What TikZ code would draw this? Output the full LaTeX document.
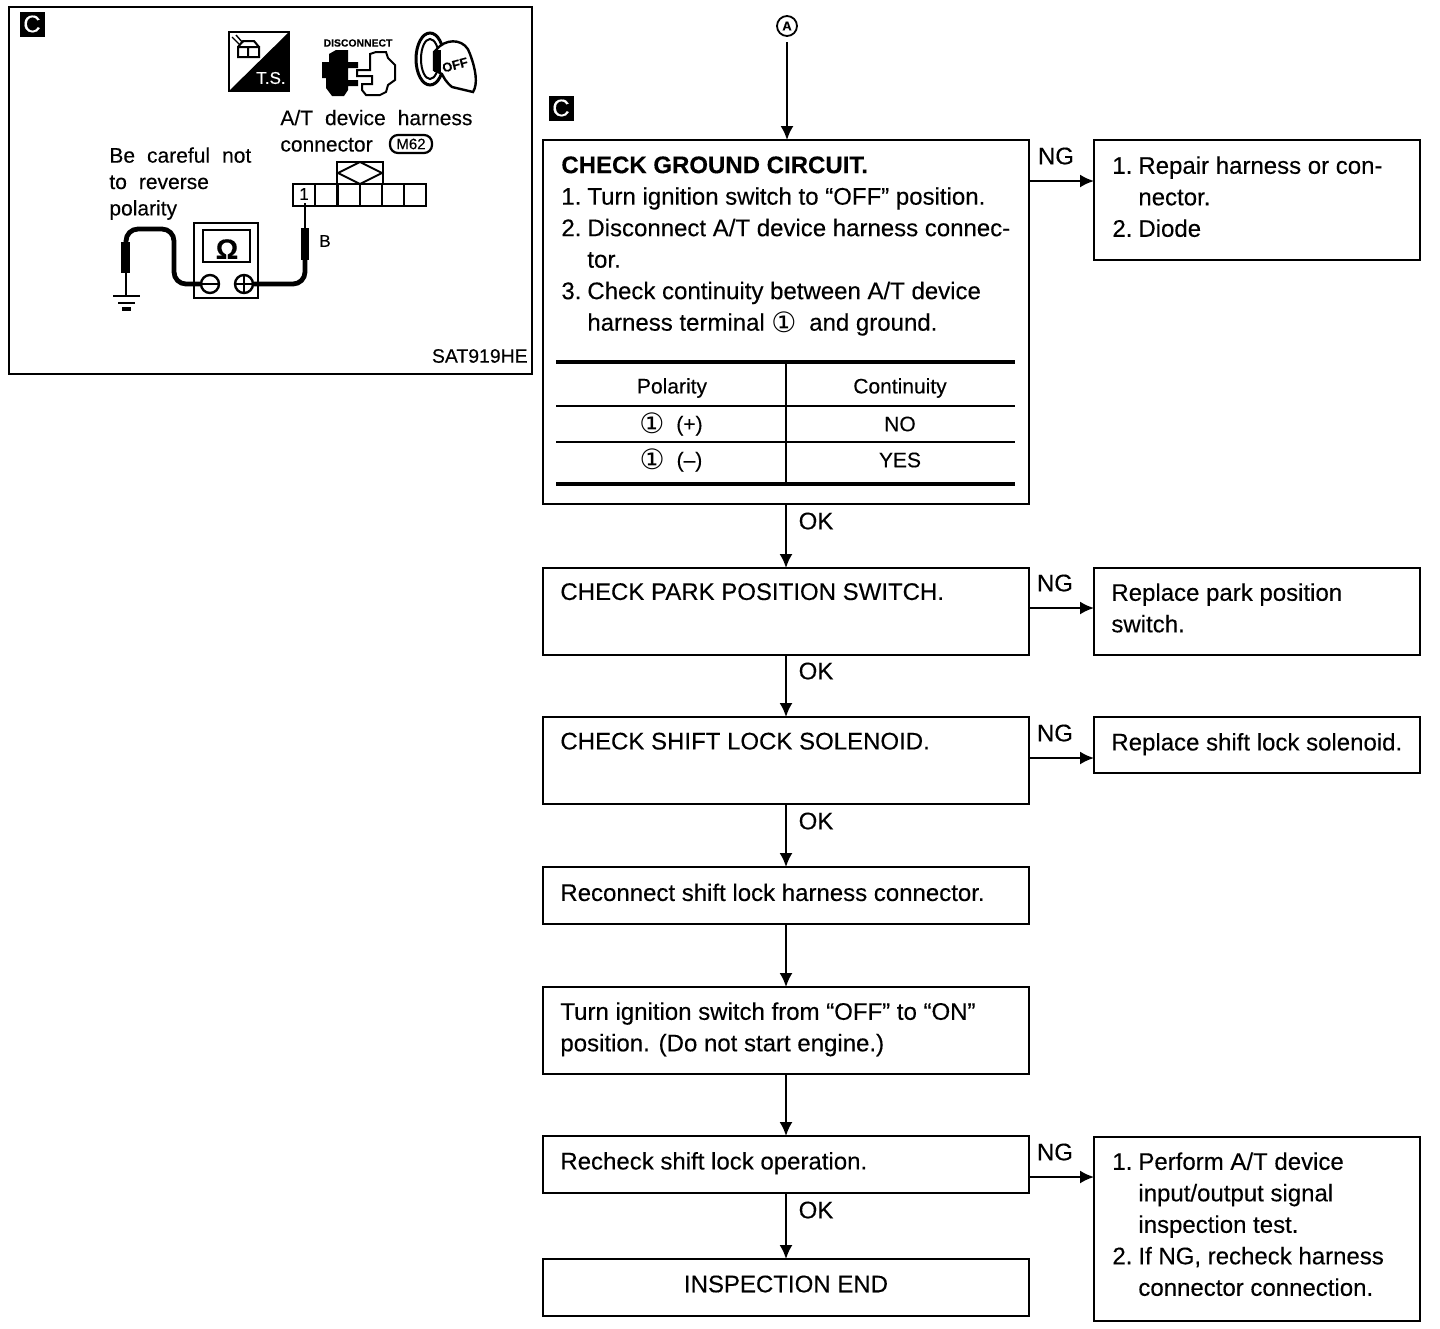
\documentclass[tikz,border=0pt]{standalone}
\usepackage{fontspec}
\setmainfont{Liberation Sans}[FakeBold=0.25]
\newfontfamily\symfont{DejaVu Sans}
\usetikzlibrary{arrows.meta,positioning,shapes}

\newcommand{\itm}[1]{\makebox[13pt][l]{#1}}
\newcommand{\one}{\raisebox{-1pt}{\symfont\fontsize{14}{14}\selectfont ①}\hspace{3pt}}
\newcommand{\wsp}{\hspace{6pt}}

\tikzset{
  box/.style={draw, line width=1pt, inner sep=0pt, outer sep=0pt, anchor=north west},
  txt/.style={inner sep=0pt, anchor=north west, align=left, execute at begin node=\strut,
    font=\fontsize{12}{15.75}\selectfont},
  small/.style={inner sep=0pt, font=\fontsize{10.5}{12.5}\selectfont},
  mark c/.style={fill=black, text=white, inner sep=0pt, minimum size=12.5pt, font=\fontsize{12}{12}\selectfont},
  flow/.style={line width=1pt, -{Latex[length=7pt,width=6.5pt]}},
  wire/.style={line width=2.4pt, rounded corners=6pt},
  thin/.style={line width=1pt},
}

\begin{document}
\begin{tikzpicture}[x=0.5pt, y=-0.5pt]
\useasboundingbox (0,0) rectangle (1440,1328);

% left panel
\draw[thin] (9,7) rectangle (532,374);
\node[mark c] (markA) at (32,24) {C};
\node[inner sep=0pt, anchor=east, font=\fontsize{9.7}{12}\selectfont] (figcode) at (528,356) {SAT919HE};

% icons
\draw[thin] (229,32) rectangle (289,91);
\fill (289,32) -- (289,91) -- (229,91) -- cycle;
\node[inner sep=0pt, text=white, font=\fontsize{8.5}{9}\selectfont] (tsmark) at (271,78) {T.S.};
\draw[line width=1pt] (238,47) rectangle (259,57) (248,47) -- (248,57) (238,47) -- (243,41) -- (254,41) -- (259,47);
\draw[line width=0.7pt] (232,37) -- (240,45) (236,35) -- (243,43);

\node[inner sep=0pt, font=\bfseries\fontsize{5.2}{5}\selectfont] (discon) at (358,43) {DISCONNECT};
\fill (322,62) -- (329,62) -- (329,54) -- (336,50) -- (348,50) -- (348,62) -- (358,62) -- (358,68) -- (348,68)
  -- (348,80) -- (358,80) -- (358,86) -- (348,86) -- (348,90) -- (344,96) -- (332,96) -- (326,88) -- (326,78) -- (322,78) -- cycle;
\draw[line width=1pt] (370,66) -- (370,54) -- (376,52) -- (386,52) -- (388,58) -- (395,65) -- (395,80) -- (388,85)
  -- (386,92) -- (380,95) -- (366,95) -- (362,90) -- (362,84) -- (372,84) -- (372,76) -- (357,76) -- (357,70) -- (370,70) -- cycle;

\draw[line width=1.5pt] (430,59) ellipse (7pt and 13pt);
\draw[line width=1pt] (430,59) ellipse (4.5pt and 10pt);
\draw[fill=white, line width=1.2pt] (440,46) .. controls (450,38) and (466,40) .. (470,54)
  .. controls (476,70) and (478,84) .. (473,92) -- (452,87) .. controls (446,82) and (444,78) .. (442,74)
  -- (434,70) -- (434,52) -- cycle;
\fill (434,50) rectangle (441,72);
\node[inner sep=0pt, rotate=15, font=\bfseries\fontsize{6.5}{7}\selectfont] (offmark) at (455,65) {OFF};

% labels of the panel
\node[txt, font=\fontsize{10.5}{13.2}\selectfont] (hintlabel) at (109,147) {Be\wsp careful\wsp not\\to\wsp reverse\\polarity};
\node[txt, font=\fontsize{10.5}{13.2}\selectfont] (connlabel) at (280,109.5) {A/T\wsp device\wsp harness\\connector};
\node[draw, line width=1.1pt, rounded corners=4pt, inner sep=1pt, minimum width=21pt, minimum height=9pt,
  font=\fontsize{7.5}{7.5}\selectfont] (m62) at (411,144) {M62};

% connector
\foreach \x in {293,315,338,360,382,404} {
\draw[thin] (\x,184) rectangle +(22,22);
}
\draw[thin] (337,184) -- (337,162) -- (383,162) -- (383,184);
\draw[thin] (338,173) -- (360,162) -- (382,173) -- (360,184) -- cycle;
\node[inner sep=0pt, font=\fontsize{8.5}{8.5}\selectfont] (pinone) at (304,194) {1};

% tester
\draw[line width=1.3pt] (194,223) rectangle (258,298);
\draw[line width=1.3pt] (203,230) rectangle (250,262);
\node[inner sep=0pt, font=\bfseries\fontsize{14}{14}\selectfont] (ohm) at (227,249) {Ω};
\node[circle, draw, line width=1.2pt, minimum size=9pt, inner sep=0pt] (minus) at (210,284) {};
\node[circle, draw, line width=1.2pt, minimum size=9pt, inner sep=0pt] (plus) at (244,284) {};
\draw[line width=1.2pt] (minus.west) -- (minus.east) (plus.west) -- (plus.east) (plus.north) -- (plus.south);

% leads
\coordinate (probeL) at (126,242);
\coordinate (probeR) at (305,260);
\draw[wire] (minus.west) -- (174,284) -- (174,229) -- (126,229) -- (probeL);
\draw[wire] (plus.east) -- (305,284) -- (probeR);
\fill (121,242) rectangle (130,273);
\fill (301,228) rectangle (309,260);
\draw[line width=1.2pt] (126,273) -- (126,296);
\draw[line width=1.2pt] (305,228) -- (305,203);
\draw[line width=1.2pt] (113,296) -- (140,296) (118,303) -- (135,303);
\draw[line width=1.6pt] (122,309) -- (131,309);
\node[inner sep=0pt, font=\fontsize{8.5}{8.5}\selectfont] (bcolor) at (325,241) {B};

% flow chart boxes
\node[mark c] (markB) at (561,108) {C};
\node[circle, draw, line width=0.9pt, minimum size=10pt, inner sep=0pt, outer sep=3pt, font=\bfseries\fontsize{6.5}{7}\selectfont] (startA) at (787,26) {A};
\node[box, minimum width=243pt, minimum height=182pt] (ground) at (543,140) {};
\node[box, minimum width=243pt, minimum height=43.5pt] (park) at (543,568) {};
\node[box, minimum width=243pt, minimum height=43.5pt] (lock) at (543,717) {};
\node[box, minimum width=243pt, minimum height=28.5pt] (reconn) at (543,867) {};
\node[box, minimum width=243pt, minimum height=43.5pt] (ignit) at (543,987) {};
\node[box, minimum width=243pt, minimum height=28.5pt] (recheck) at (543,1136) {};
\node[box, minimum width=243pt, minimum height=28.5pt] (inspend) at (543,1259) {};
\node[box, minimum width=163pt, minimum height=60pt] (repair) at (1094,140) {};
\node[box, minimum width=163pt, minimum height=43.5pt] (rpark) at (1094,568) {};
\node[box, minimum width=163pt, minimum height=28pt] (rlock) at (1094,717) {};
\node[box, minimum width=163pt, minimum height=92pt] (perform) at (1094,1137) {};

% box texts
\node[txt] (groundtxt) at (561,156) {\textbf{CHECK GROUND CIRCUIT.}\\
\itm{1.}Turn ignition switch to “OFF” position.\\
\itm{2.}Disconnect A/T device harness connec-\\
\itm{}tor.\\
\itm{3.}Check continuity between A/T device\\
\itm{}harness terminal \one\ and ground.};
\node[txt] (parktxt) at (560,577.5) {CHECK PARK POSITION SWITCH.};
\node[txt] (locktxt) at (560,727) {CHECK SHIFT LOCK SOLENOID.};
\node[txt] (reconntxt) at (560,878.5) {Reconnect shift lock harness connector.};
\node[txt] (ignittxt) at (560,1002) {Turn ignition switch from “OFF” to “ON”\\position. (Do not start engine.)};
\node[txt] (rechecktxt) at (560,1147) {Recheck shift lock operation.};
\node[inner sep=0pt, font=\fontsize{12}{15.75}\selectfont] (endtxt) at (786,1284) {INSPECTION END};
\node[txt] (repairtxt) at (1112,156) {\itm{1.}Repair harness or con-\\\itm{}nector.\\\itm{2.}Diode};
\node[txt] (rparktxt) at (1111,583) {Replace park position\\switch.};
\node[txt] (rlocktxt) at (1111,728) {Replace shift lock solenoid.};
\node[txt] (performtxt) at (1112,1152) {\itm{1.}Perform A/T device\\\itm{}input/output signal\\\itm{}inspection test.\\\itm{2.}If NG, recheck harness\\\itm{}connector connection.};

% table
\draw[line width=2.4pt] (556,362) -- (1015,362) (556,484) -- (1015,484);
\draw[thin] (556,406) -- (1015,406) (556,442) -- (1015,442) (786,362) -- (786,484);
\node[small] (polhead) at (672,388) {Polarity};
\node[small] (conhead) at (900,388) {Continuity};
\node[small] (polplus) at (671,424) {\one\ (+)};
\node[small] (conno) at (900,424) {NO};
\node[small] (polminus) at (671,460) {\one\ (–)};
\node[small] (conyes) at (900,460) {YES};

% arrows down
\draw[flow] (startA.south) -- (startA.south |- ground.north);
\draw[flow] (ground.south) -- (park.north);
\draw[flow] (park.south) -- (lock.north);
\draw[flow] (lock.south) -- (reconn.north);
\draw[flow] (reconn.south) -- (ignit.north);
\draw[flow] (ignit.south) -- (recheck.north);
\draw[flow] (recheck.south) -- (inspend.north);

% arrows right
\coordinate (ngA) at (ground.east |- 0,181);
\coordinate (ngB) at (park.east |- 0,608);
\coordinate (ngC) at (lock.east |- 0,758);
\coordinate (ngD) at (recheck.east |- 0,1177);
\draw[flow] (ngA) -- (ngA -| repair.west);
\draw[flow] (ngB) -- (ngB -| rpark.west);
\draw[flow] (ngC) -- (ngC -| rlock.west);
\draw[flow] (ngD) -- (ngD -| perform.west);

\node[txt, anchor=center] (ngtxtA) at (1056,158) {NG};
\node[txt, anchor=center] (ngtxtB) at (1055,585) {NG};
\node[txt, anchor=center] (ngtxtC) at (1055,735) {NG};
\node[txt, anchor=center] (ngtxtD) at (1055,1154) {NG};
\node[txt, anchor=center] (oktxtA) at (816,523) {OK};
\node[txt, anchor=center] (oktxtB) at (816,673) {OK};
\node[txt, anchor=center] (oktxtC) at (816,823) {OK};
\node[txt, anchor=center] (oktxtD) at (816,1212) {OK};
\end{tikzpicture}
\end{document}
